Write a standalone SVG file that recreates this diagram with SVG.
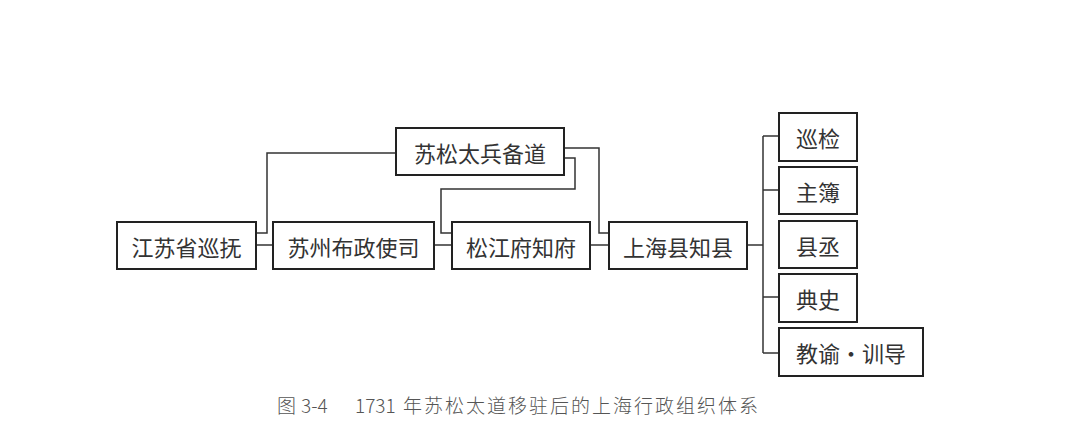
<svg xmlns="http://www.w3.org/2000/svg" width="1077" height="433" viewBox="0 0 1077 433">
<style>
.box{fill:#fff;stroke:#222;stroke-width:2}
.lbl{font-family:"Noto Sans CJK SC","Noto Sans",sans-serif;font-size:22px;fill:#333;text-anchor:middle;dominant-baseline:central}
.con{fill:none;stroke:#333;stroke-width:1.5}
.cap{font-family:"Noto Sans CJK SC","Noto Sans",sans-serif;font-size:19px;fill:#555;font-weight:300}
</style>
<rect width="1077" height="433" fill="#fff"/>
<g id="connectors">
<line class="con" x1="256" y1="245" x2="273" y2="245"/>
<line class="con" x1="434" y1="245" x2="452" y2="245"/>
<line class="con" x1="590" y1="245" x2="609" y2="245"/>
<line class="con" x1="747" y1="245" x2="763" y2="245"/>
<polyline class="con" points="256,233 267,233 267,153 396,153"/>
<polyline class="con" points="564,158 575,158 575,189 441,189 441,233 452,233"/>
<polyline class="con" points="564,148 599,148 599,233 609,233"/>
<line class="con" x1="763" y1="136" x2="763" y2="353"/>
<line class="con" x1="763" y1="136" x2="779" y2="136"/>
<line class="con" x1="763" y1="190" x2="779" y2="190"/>
<line class="con" x1="763" y1="297" x2="779" y2="297"/>
<line class="con" x1="763" y1="353" x2="779" y2="353"/>
</g>
<g id="n1"><rect class="box" x="117" y="222" width="139" height="47"/><text class="lbl" x="186.5" y="245.5">江苏省巡抚</text></g>
<g id="n2"><rect class="box" x="273" y="222" width="161" height="47"/><text class="lbl" x="353.5" y="245.5">苏州布政使司</text></g>
<g id="n3"><rect class="box" x="452" y="222" width="138" height="47"/><text class="lbl" x="521" y="245.5">松江府知府</text></g>
<g id="n4"><rect class="box" x="396" y="128" width="168" height="47"/><text class="lbl" x="480" y="151.5">苏松太兵备道</text></g>
<g id="n5"><rect class="box" x="609" y="222" width="138" height="47"/><text class="lbl" x="678" y="245.5">上海县知县</text></g>
<g id="r1"><rect class="box" x="779" y="113" width="78" height="48"/><text class="lbl" x="818" y="137">巡检</text></g>
<g id="r2"><rect class="box" x="779" y="167" width="78" height="47"/><text class="lbl" x="818" y="190.5">主簿</text></g>
<g id="r3"><rect class="box" x="779" y="221" width="78" height="47"/><text class="lbl" x="818" y="244.5">县丞</text></g>
<g id="r4"><rect class="box" x="779" y="274" width="78" height="48"/><text class="lbl" x="818" y="298">典史</text></g>
<g id="r5"><rect class="box" x="779" y="328" width="144" height="48"/><text class="lbl" x="851" y="352">教谕·训导</text></g>
<g id="caption">
<text class="cap" y="413"><tspan x="277">图</tspan><tspan x="301">3-4</tspan><tspan x="355">1731</tspan><tspan x="403" letter-spacing="2">年苏松太道移驻后的上海行政组织体系</tspan></text>
</g>
</svg>
